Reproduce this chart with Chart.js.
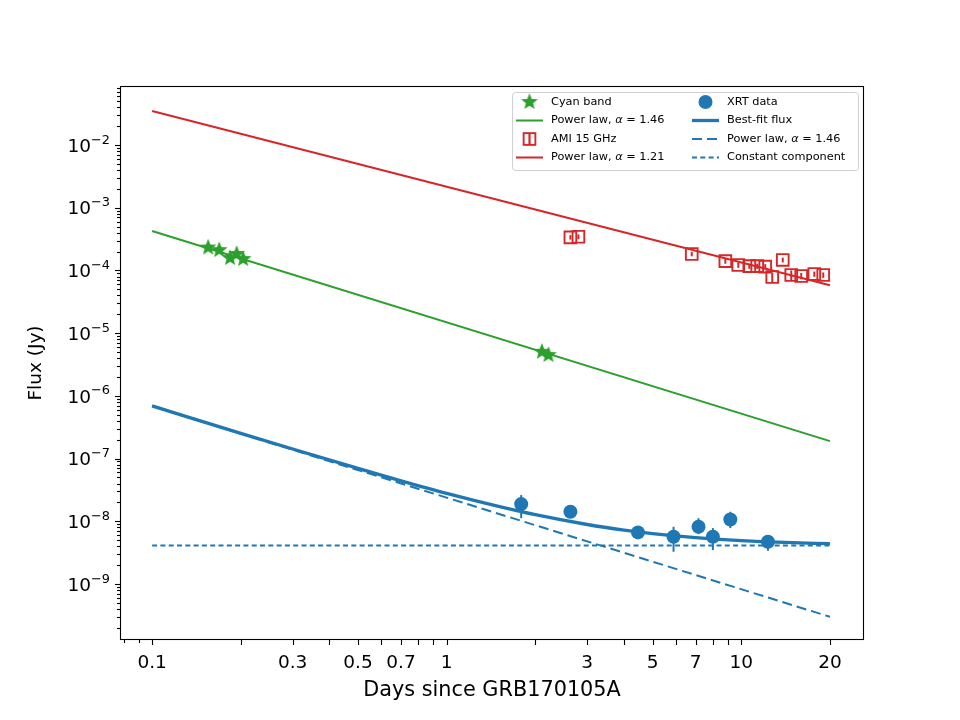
<!DOCTYPE html>
<html>
<head>
<meta charset="utf-8">
<script src="https://cdn.jsdelivr.net/npm/chart.js@4.4.0/dist/chart.umd.min.js"></script>
<style>
  html, body { margin: 0; padding: 0; background: #fff; }
</style>
</head>
<body>
<canvas id="lightCurve" width="960" height="720"></canvas>
<script>
// Cyan band (optical) detections
const cyanDays = [0.155, 0.169, 0.184, 0.1936, 0.2037, 2.105, 2.216];
const cyanFlux = [2.32e-4, 2.11e-4, 1.58e-4, 1.83e-4, 1.52e-4, 5.05e-6, 4.48e-6];

// AMI 15 GHz
const amiDays = [2.63, 2.80, 6.79, 8.83, 9.77, 10.65, 11.33, 12.06, 12.74, 13.83, 14.78, 15.98, 17.70, 18.98];
const amiFlux = [3.37e-4, 3.45e-4, 1.83e-4, 1.41e-4, 1.22e-4, 1.17e-4, 1.17e-4, 1.15e-4, 7.85e-5, 1.47e-4, 8.45e-5, 8.15e-5, 8.77e-5, 8.45e-5];
const amiLow  = [3.10e-4, 3.15e-4, 1.68e-4, 1.28e-4, 1.10e-4, 1.06e-4, 1.06e-4, 1.04e-4, 6.4e-5, 1.34e-4, 6.9e-5, 7.2e-5, 7.9e-5, 7.6e-5];
const amiHigh = [3.65e-4, 3.75e-4, 1.98e-4, 1.54e-4, 1.34e-4, 1.28e-4, 1.28e-4, 1.26e-4, 9.3e-5, 1.60e-4, 1.0e-4, 9.1e-5, 9.6e-5, 9.3e-5];

// Swift XRT
const xrtDays = [1.79, 2.63, 4.46, 5.89, 7.16, 8.01, 9.18, 12.32];
const xrtFlux = [1.88e-8, 1.42e-8, 6.65e-9, 5.66e-9, 8.17e-9, 5.66e-9, 1.07e-8, 4.71e-9];
const xrtLow  = [1.12e-8, 1.15e-8, 6.0e-9, 3.27e-9, 6.25e-9, 3.48e-9, 7.79e-9, 3.39e-9];
const xrtHigh = [2.62e-8, 1.55e-8, 7.3e-9, 8.17e-9, 1.12e-8, 7.79e-9, 1.42e-8, 5.66e-9];

// model curves (end points; best-fit)
const modelDays = [0.1, 20];
const cyanModel = [4.25e-4, 1.9e-7];
const amiModel = [3.48e-2, 5.8e-5];
const xrtPowerLaw = [6.87e-7, 3.0e-10];
const xrtConstant = [4.1e-9, 4.1e-9];
const fitDays = [0.1, 0.2, 0.3, 0.5, 0.7, 1, 1.5, 2, 3, 4, 5, 7, 10, 14, 20];
const fitFlux = [6.91e-7, 2.53e-7, 1.42e-7, 6.96e-8, 4.42e-8, 2.79e-8, 1.73e-8, 1.275e-8, 8.89e-9, 7.24e-9, 6.37e-9, 5.49e-9, 4.93e-9, 4.60e-9, 4.40e-9];

// axes
const xRange = [0.0778, 26.1];
const yRange = [1.28e-10, 0.0873];
const xTickVals = [0.08, 0.09, 0.1, 0.2, 0.3, 0.4, 0.5, 0.6, 0.7, 0.8, 0.9, 1, 2, 3, 4, 5, 6, 7, 8, 9, 10, 20];
const xTickLabels = [0.1, 0.3, 0.5, 0.7, 1, 3, 5, 7, 10, 20];
const yTickExps = [-9, -8, -7, -6, -5, -4, -3, -2];

const blue = '#1f77b4', green = '#2ca02c', red = '#d62728';
const FONT = 'DejaVu Sans';

function pts(xs, ys) { return xs.map((x, i) => ({ x: x, y: ys[i] })); }

function makeStar(size, color) {
  const c = document.createElement('canvas');
  c.width = c.height = size;
  const g = c.getContext('2d');
  const R = size / 2 - 0.3, r = R * 0.44;
  g.beginPath();
  for (let i = 0; i < 10; i++) {
    const a = -Math.PI / 2 + i * Math.PI / 5;
    const rr = i % 2 ? r : R;
    g.lineTo(size / 2 + rr * Math.cos(a), size / 2 + rr * Math.sin(a));
  }
  g.closePath();
  g.fillStyle = color;
  g.fill();
  return c;
}
const starImg = makeStar(18, green);

const errorBars = [
  { ds: 2, lo: amiLow, hi: amiHigh, color: red },
  { ds: 4, lo: xrtLow, hi: xrtHigh, color: blue }
];

const decorations = {
  id: 'decorations',
  beforeDatasetsDraw(chart) {
    const c = chart.ctx, ys = chart.scales.y, xs = chart.scales.x;
    c.save();
    c.lineWidth = 2;
    errorBars.forEach(eb => {
      const d = chart.data.datasets[eb.ds].data;
      c.strokeStyle = eb.color;
      d.forEach((p, i) => {
        const px = xs.getPixelForValue(p.x);
        c.beginPath();
        c.moveTo(px, ys.getPixelForValue(eb.lo[i]));
        c.lineTo(px, ys.getPixelForValue(eb.hi[i]));
        c.stroke();
      });
    });
    c.restore();
  },
  afterDraw(chart) {
    const c = chart.ctx, ca = chart.chartArea;
    const xs = chart.scales.x, ys = chart.scales.y;
    c.save();
    c.strokeStyle = '#000';
    c.lineWidth = 1.1;
    // frame
    c.strokeRect(Math.round(ca.left) + 0.5, Math.round(ca.top) + 0.5,
      Math.round(ca.right - ca.left) - 1, Math.round(ca.bottom - ca.top) - 1);
    // x ticks
    const bottom = Math.round(ca.bottom);
    xTickVals.forEach(v => {
      const px = Math.round(xs.getPixelForValue(v)) + 0.5;
      const len = v >= 0.1 ? 5 : 3;
      c.beginPath(); c.moveTo(px, bottom); c.lineTo(px, bottom + len); c.stroke();
    });
    // y ticks (major + minor)
    const left = Math.round(ca.left);
    for (let e = -10; e <= -2; e++) {
      for (let k = 1; k <= 9; k++) {
        const v = k * Math.pow(10, e);
        if (v < yRange[0] || v > yRange[1]) continue;
        const py = Math.round(ys.getPixelForValue(v)) + 0.5;
        const len = k === 1 ? 5 : 3;
        c.beginPath(); c.moveTo(left, py); c.lineTo(left - len, py); c.stroke();
      }
    }
    // y labels 10^n
    c.fillStyle = '#000';
    c.textBaseline = 'alphabetic';
    yTickExps.forEach(e => {
      const py = ys.getPixelForValue(Math.pow(10, e));
      const sup = '\u2212' + Math.abs(e);
      c.font = '12.9px "' + FONT + '"';
      const wSup = c.measureText(sup).width;
      c.font = '18.5px "' + FONT + '"';
      const wBase = c.measureText('10').width;
      const xr = left - 10;
      c.textAlign = 'left';
      c.fillText('10', xr - wSup - wBase, py + 6.7);
      c.font = '12.9px "' + FONT + '"';
      c.fillText(sup, xr - wSup, py - 1.5);
    });
    c.restore();
    drawLegend(chart);
  }
};

// legend: two columns, each entry points at a dataset
const legendCols = [[0, 1, 2, 3], [4, 5, 6, 7]];

function drawLabel(c, text, x, y) {
  const parts = text.split('\u03b1');
  c.font = '11.3px "' + FONT + '"';
  c.fillText(parts[0], x, y);
  if (parts.length < 2) return;
  let cx = x + c.measureText(parts[0]).width;
  c.font = 'italic 11.3px "' + FONT + '"';
  c.fillText('\u03b1', cx, y);
  cx += c.measureText('\u03b1').width;
  c.font = '11.3px "' + FONT + '"';
  c.fillText(parts[1], cx, y);
}

function drawLegend(chart) {
  const c = chart.ctx, ca = chart.chartArea;
  const w = 346, h = 78;
  const bx = ca.right - 6 - w, by = ca.top + 6;
  c.save();
  c.beginPath();
  c.roundRect(bx + 0.5, by + 0.5, w, h, 3);
  c.fillStyle = 'rgba(255,255,255,0.85)';
  c.fill();
  c.strokeStyle = '#d0d0d0';
  c.lineWidth = 1;
  c.stroke();
  const rowY = [10, 28.5, 47, 65.5];
  const colX = [4, 180];
  legendCols.forEach((col, ci) => {
    col.forEach((di, ri) => {
      const ds = chart.data.datasets[di];
      const y = by + rowY[ri];
      const x0 = bx + colX[ci], x1 = x0 + 27, xm = (x0 + x1) / 2;
      c.setLineDash([]);
      if (ds.showLine) {
        c.strokeStyle = ds.borderColor;
        c.lineWidth = ds.borderWidth;
        c.setLineDash(ds.borderDash || []);
        c.beginPath(); c.moveTo(x0, y); c.lineTo(x1, y); c.stroke();
        c.setLineDash([]);
      } else if (ds.pointStyle === 'rect') {
        const half = ds.pointRadius * Math.SQRT1_2;
        c.strokeStyle = ds.borderColor;
        c.lineWidth = 2.2;
        c.beginPath(); c.moveTo(xm, y - half); c.lineTo(xm, y + half); c.stroke();
        c.lineWidth = ds.pointBorderWidth;
        c.strokeRect(xm - half, y - half, half * 2, half * 2);
      } else if (ds.pointStyle === 'circle') {
        c.fillStyle = ds.backgroundColor;
        c.beginPath(); c.arc(xm, y, ds.pointRadius, 0, Math.PI * 2); c.fill();
      } else {
        c.drawImage(ds.pointStyle, xm - ds.pointStyle.width / 2, y - ds.pointStyle.height / 2);
      }
      c.fillStyle = '#000';
      c.textAlign = 'left';
      c.textBaseline = 'middle';
      drawLabel(c, ds.label, x0 + 35, y);
    });
  });
  c.restore();
}

new Chart(document.getElementById('lightCurve'), {
  type: 'scatter',
  data: {
    datasets: [
      { label: 'Cyan band', data: pts(cyanDays, cyanFlux), pointStyle: starImg, order: 1 },
      { label: 'Power law, \u03b1 = 1.46', data: pts(modelDays, cyanModel), showLine: true,
        borderColor: green, borderWidth: 2, pointRadius: 0, order: 5 },
      { label: 'AMI 15 GHz', data: pts(amiDays, amiFlux), pointStyle: 'rect', pointRadius: 8.3,
        backgroundColor: 'rgba(0,0,0,0)', borderColor: red, pointBorderWidth: 1.9, order: 1 },
      { label: 'Power law, \u03b1 = 1.21', data: pts(modelDays, amiModel), showLine: true,
        borderColor: red, borderWidth: 2, pointRadius: 0, order: 5 },
      { label: 'XRT data', data: pts(xrtDays, xrtFlux), pointStyle: 'circle', pointRadius: 7,
        backgroundColor: blue, borderColor: blue, borderWidth: 0, order: 1 },
      { label: 'Best-fit flux', data: pts(fitDays, fitFlux), showLine: true, cubicInterpolationMode: 'monotone',
        borderColor: blue, borderWidth: 3.3, pointRadius: 0, order: 4 },
      { label: 'Power law, \u03b1 = 1.46', data: pts(modelDays, xrtPowerLaw), showLine: true,
        borderColor: blue, borderWidth: 2, borderDash: [10, 5], pointRadius: 0, order: 5 },
      { label: 'Constant component', data: pts(modelDays, xrtConstant), showLine: true,
        borderColor: blue, borderWidth: 2, borderDash: [5, 3.3], pointRadius: 0, order: 5 }
    ]
  },
  options: {
    responsive: false,
    animation: false,
    layout: { padding: { left: 0, top: 86, right: 96, bottom: 0 } },
    plugins: { legend: { display: false }, tooltip: { enabled: false } },
    scales: {
      x: {
        type: 'logarithmic',
        min: xRange[0], max: xRange[1],
        grid: { display: false, drawTicks: false },
        border: { display: false },
        afterFit: s => { s.height = 80; },
        afterBuildTicks: s => { s.ticks = xTickVals.map(v => ({ value: v })); },
        ticks: {
          autoSkip: false, maxRotation: 0, padding: 12, color: '#000',
          font: { family: FONT, size: 18.5 },
          callback: v => xTickLabels.includes(v) ? String(v) : ''
        },
        title: { display: true, text: 'Days since GRB170105A', color: '#000',
          font: { family: FONT, size: 20.8 }, padding: { top: 0, bottom: 17 } }
      },
      y: {
        type: 'logarithmic',
        min: yRange[0], max: yRange[1],
        grid: { display: false, drawTicks: false },
        border: { display: false },
        afterFit: s => { s.width = 120; },
        ticks: { display: false },
        title: { display: true, text: 'Flux (Jy)', color: '#000',
          font: { family: FONT, size: 18.5 }, padding: { top: 25, bottom: 0 } }
      }
    }
  },
  plugins: [decorations]
});
</script>
</body>
</html>
